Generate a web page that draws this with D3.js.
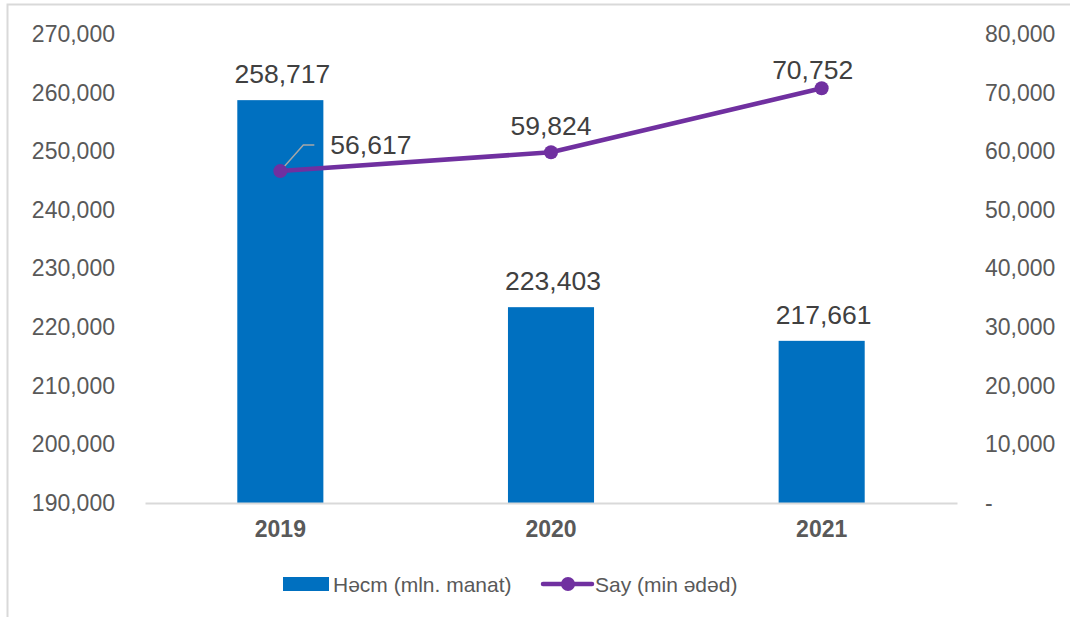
<!DOCTYPE html>
<html>
<head>
<meta charset="utf-8">
<script src="https://cdn.jsdelivr.net/npm/d3@7"></script>
<style>
  body { margin: 0; background: #fff; }
  svg { font-family: "Liberation Sans", Arial, sans-serif; }
</style>
</head>
<body>
<svg id="chart" width="1070" height="617"></svg>
<script>
// Dữ liệu
const years = ["2019", "2020", "2021"];
const hecm = [258717, 223403, 217661];   // mln. manat (trục trái)
const say = [56617, 59824, 70752];        // min ədəd (trục phải)
const leftTicks = [190000, 200000, 210000, 220000, 230000, 240000, 250000, 260000, 270000];
const rightTicks = [0, 10000, 20000, 30000, 40000, 50000, 60000, 70000, 80000];
const seriesNames = ["Həcm (mln. manat)", "Say (min ədəd)"];

const svg = d3.select("#chart"),
      margin = {top: 34, right: 113, bottom: 114, left: 145},
      width = +svg.attr("width") - margin.left - margin.right,
      height = +svg.attr("height") - margin.top - margin.bottom;

const BLUE = "#0070C0", PURPLE = "#7030A0", TXT = "#595959", LBL = "#404040";
const fmt = d3.format(",");

// khung viền
svg.append("rect")
   .attr("x", 7.5).attr("y", 4.5)
   .attr("width", 1080).attr("height", 630)
   .attr("fill", "none")
   .attr("stroke", "#D9D9D9")
   .attr("stroke-width", 2);

const g = svg.append("g")
             .attr("transform", `translate(${margin.left},${margin.top})`);

const x = d3.scaleBand()
            .domain(years)
            .range([0, width])
            .paddingInner(0.682)
            .paddingOuter(0.341);

const yL = d3.scaleLinear().domain([190000, 270000]).range([height, 0]);
const yR = d3.scaleLinear().domain([0, 80000]).range([height, 0]);

// Trục trái
const axL = g.append("g")
  .call(d3.axisLeft(yL).tickValues(leftTicks).tickFormat(fmt).tickSize(0).tickPadding(30));
axL.select(".domain").remove();
axL.selectAll("text").style("font-size", "23px").style("fill", TXT);

// Trục phải
const axR = g.append("g")
  .attr("transform", `translate(${width},0)`)
  .call(d3.axisRight(yR).tickValues(rightTicks).tickFormat(d => d === 0 ? "-" : fmt(d)).tickSize(0).tickPadding(28));
axR.select(".domain").remove();
axR.selectAll("text").style("font-size", "23px").style("fill", TXT);

// Vẽ cột
g.selectAll("rect.bar")
  .data(years)
  .enter().append("rect")
    .attr("class", "bar")
    .attr("x", d => x(d))
    .attr("width", x.bandwidth())
    .attr("y", (d, i) => yL(hecm[i]))
    .attr("height", (d, i) => height - yL(hecm[i]))
    .attr("fill", BLUE);

// Trục X
const axX = g.append("g")
  .attr("transform", `translate(0,${height})`)
  .call(d3.axisBottom(x).tickSize(0).tickPadding(18));
axX.select(".domain").attr("stroke", "#D9D9D9").attr("stroke-width", 2);
axX.selectAll("text")
   .style("font-size", "23px")
   .style("font-weight", "bold")
   .style("fill", TXT);

// Nhãn cột
g.selectAll("text.barlbl")
  .data(years)
  .enter().append("text")
    .attr("class", "barlbl")
    .attr("x", d => x(d) + x.bandwidth() / 2 + 2)
    .attr("y", (d, i) => yL(hecm[i]) - 17)
    .attr("text-anchor", "middle")
    .style("font-size", "26.5px")
    .style("fill", LBL)
    .text((d, i) => fmt(hecm[i]));

// Đường
const cx = d => x(d) + x.bandwidth() / 2;
const line = d3.line()
  .x(d => cx(d))
  .y((d, i) => yR(say[i]));

g.append("path")
  .datum(years)
  .attr("d", line)
  .attr("fill", "none")
  .attr("stroke", PURPLE)
  .attr("stroke-width", 4.5)
  .attr("stroke-linejoin", "round");

// đường dẫn nhãn 56,617
g.append("polyline")
  .attr("points", [[cx("2019"), yR(say[0])], [cx("2019") + 23, yR(say[0]) - 26], [cx("2019") + 34, yR(say[0]) - 26]].map(p => p.join(",")).join(" "))
  .attr("fill", "none")
  .attr("stroke", "#A6A6A6")
  .attr("stroke-width", 1.5);

g.selectAll("circle.pt")
  .data(years)
  .enter().append("circle")
    .attr("class", "pt")
    .attr("cx", d => cx(d))
    .attr("cy", (d, i) => yR(say[i]))
    .attr("r", 7)
    .attr("fill", PURPLE);

// Nhãn đường
const lblOffset = [[50, -17, "start"], [0, -17, "middle"], [-9, -9, "middle"]];
g.selectAll("text.linelbl")
  .data(years)
  .enter().append("text")
    .attr("class", "linelbl")
    .attr("x", (d, i) => cx(d) + lblOffset[i][0])
    .attr("y", (d, i) => yR(say[i]) + lblOffset[i][1])
    .attr("text-anchor", (d, i) => lblOffset[i][2])
    .style("font-size", "26.5px")
    .style("fill", LBL)
    .text((d, i) => fmt(say[i]));

// Chú thích
const leg = svg.append("g").attr("transform", "translate(283,584)");
leg.append("rect").attr("x", 0).attr("y", -7).attr("width", 46).attr("height", 14).attr("fill", BLUE);
leg.append("text").attr("x", 50).attr("y", 7.5).style("font-size", "21px").style("fill", TXT).text(seriesNames[0]);
leg.append("line").attr("x1", 260).attr("x2", 309).attr("y1", 0).attr("y2", 0)
   .attr("stroke", PURPLE).attr("stroke-width", 4.5).attr("stroke-linecap", "round");
leg.append("circle").attr("cx", 285).attr("cy", 0).attr("r", 7).attr("fill", PURPLE);
leg.append("text").attr("x", 312).attr("y", 7.5).style("font-size", "21px").style("fill", TXT).text(seriesNames[1]);
</script>
</body>
</html>
